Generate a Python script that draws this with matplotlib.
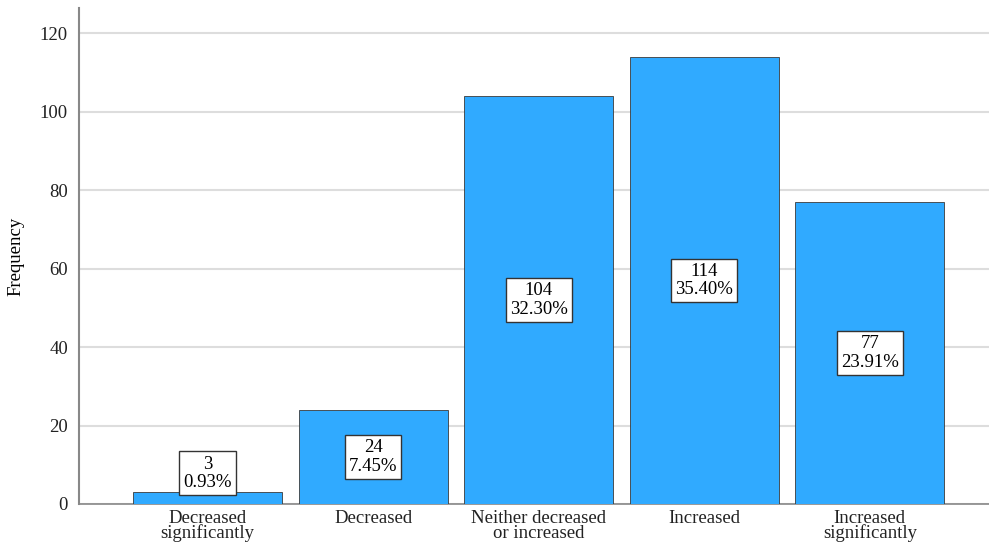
import numpy as np
import matplotlib.pyplot as plt

plt.rcParams['font.family'] = ['Liberation Serif', 'DejaVu Serif']

categories = ['Decreased\nsignificantly', 'Decreased', 'Neither decreased\nor increased',
              'Increased', 'Increased\nsignificantly']
counts = [3, 24, 104, 114, 77]
percents = [0.93, 7.45, 32.30, 35.40, 23.91]

fig = plt.figure(figsize=(9.89, 5.51), dpi=100)
ax = fig.add_axes([79/989, 47/551, 910/989, 496/551])

x = np.arange(len(counts))
ax.bar(x, counts, width=0.9, color='#30aaff', edgecolor='#3a3a3a', linewidth=0.6, zorder=3)

# count + percent in a white box: middle of the bar, or on top when the bar is too short
for xi, c, p in zip(x, counts, percents):
    txt = f'{c}\n{p:.2f}%'
    if c < 10:
        y, va = c + 0.35, 'bottom'
    else:
        y, va = c / 2, 'center'
    ax.text(xi, y, txt, ha='center', va=va, fontsize=13.5, linespacing=1.1, zorder=5,
            bbox=dict(boxstyle='square,pad=0.22', fc='white', ec='#333333', lw=1.0))

ax.set_xlim(-0.776, 4.72)
ax.set_ylim(0, 126.4)
ax.set_yticks([0, 20, 40, 60, 80, 100, 120])
ax.set_xticks(x)
ax.set_xticklabels(categories, fontsize=13.5, linespacing=0.85)
ax.tick_params(axis='y', length=0, labelsize=13.5, pad=8, colors='#222222')
ax.tick_params(axis='x', length=0, pad=4, colors='#222222')
ax.yaxis.grid(True, color='#dddddd', linewidth=1.5, zorder=0)
ax.set_axisbelow(True)

for s in ['top', 'right']:
    ax.spines[s].set_visible(False)
ax.spines['left'].set_color('#888888')
ax.spines['left'].set_linewidth(1.5)
ax.spines['bottom'].set_color('#888888')
ax.spines['bottom'].set_linewidth(1.2)

ax.set_ylabel('Frequency', fontsize=13.5, labelpad=11)

fig.savefig('out.png', dpi=100)
